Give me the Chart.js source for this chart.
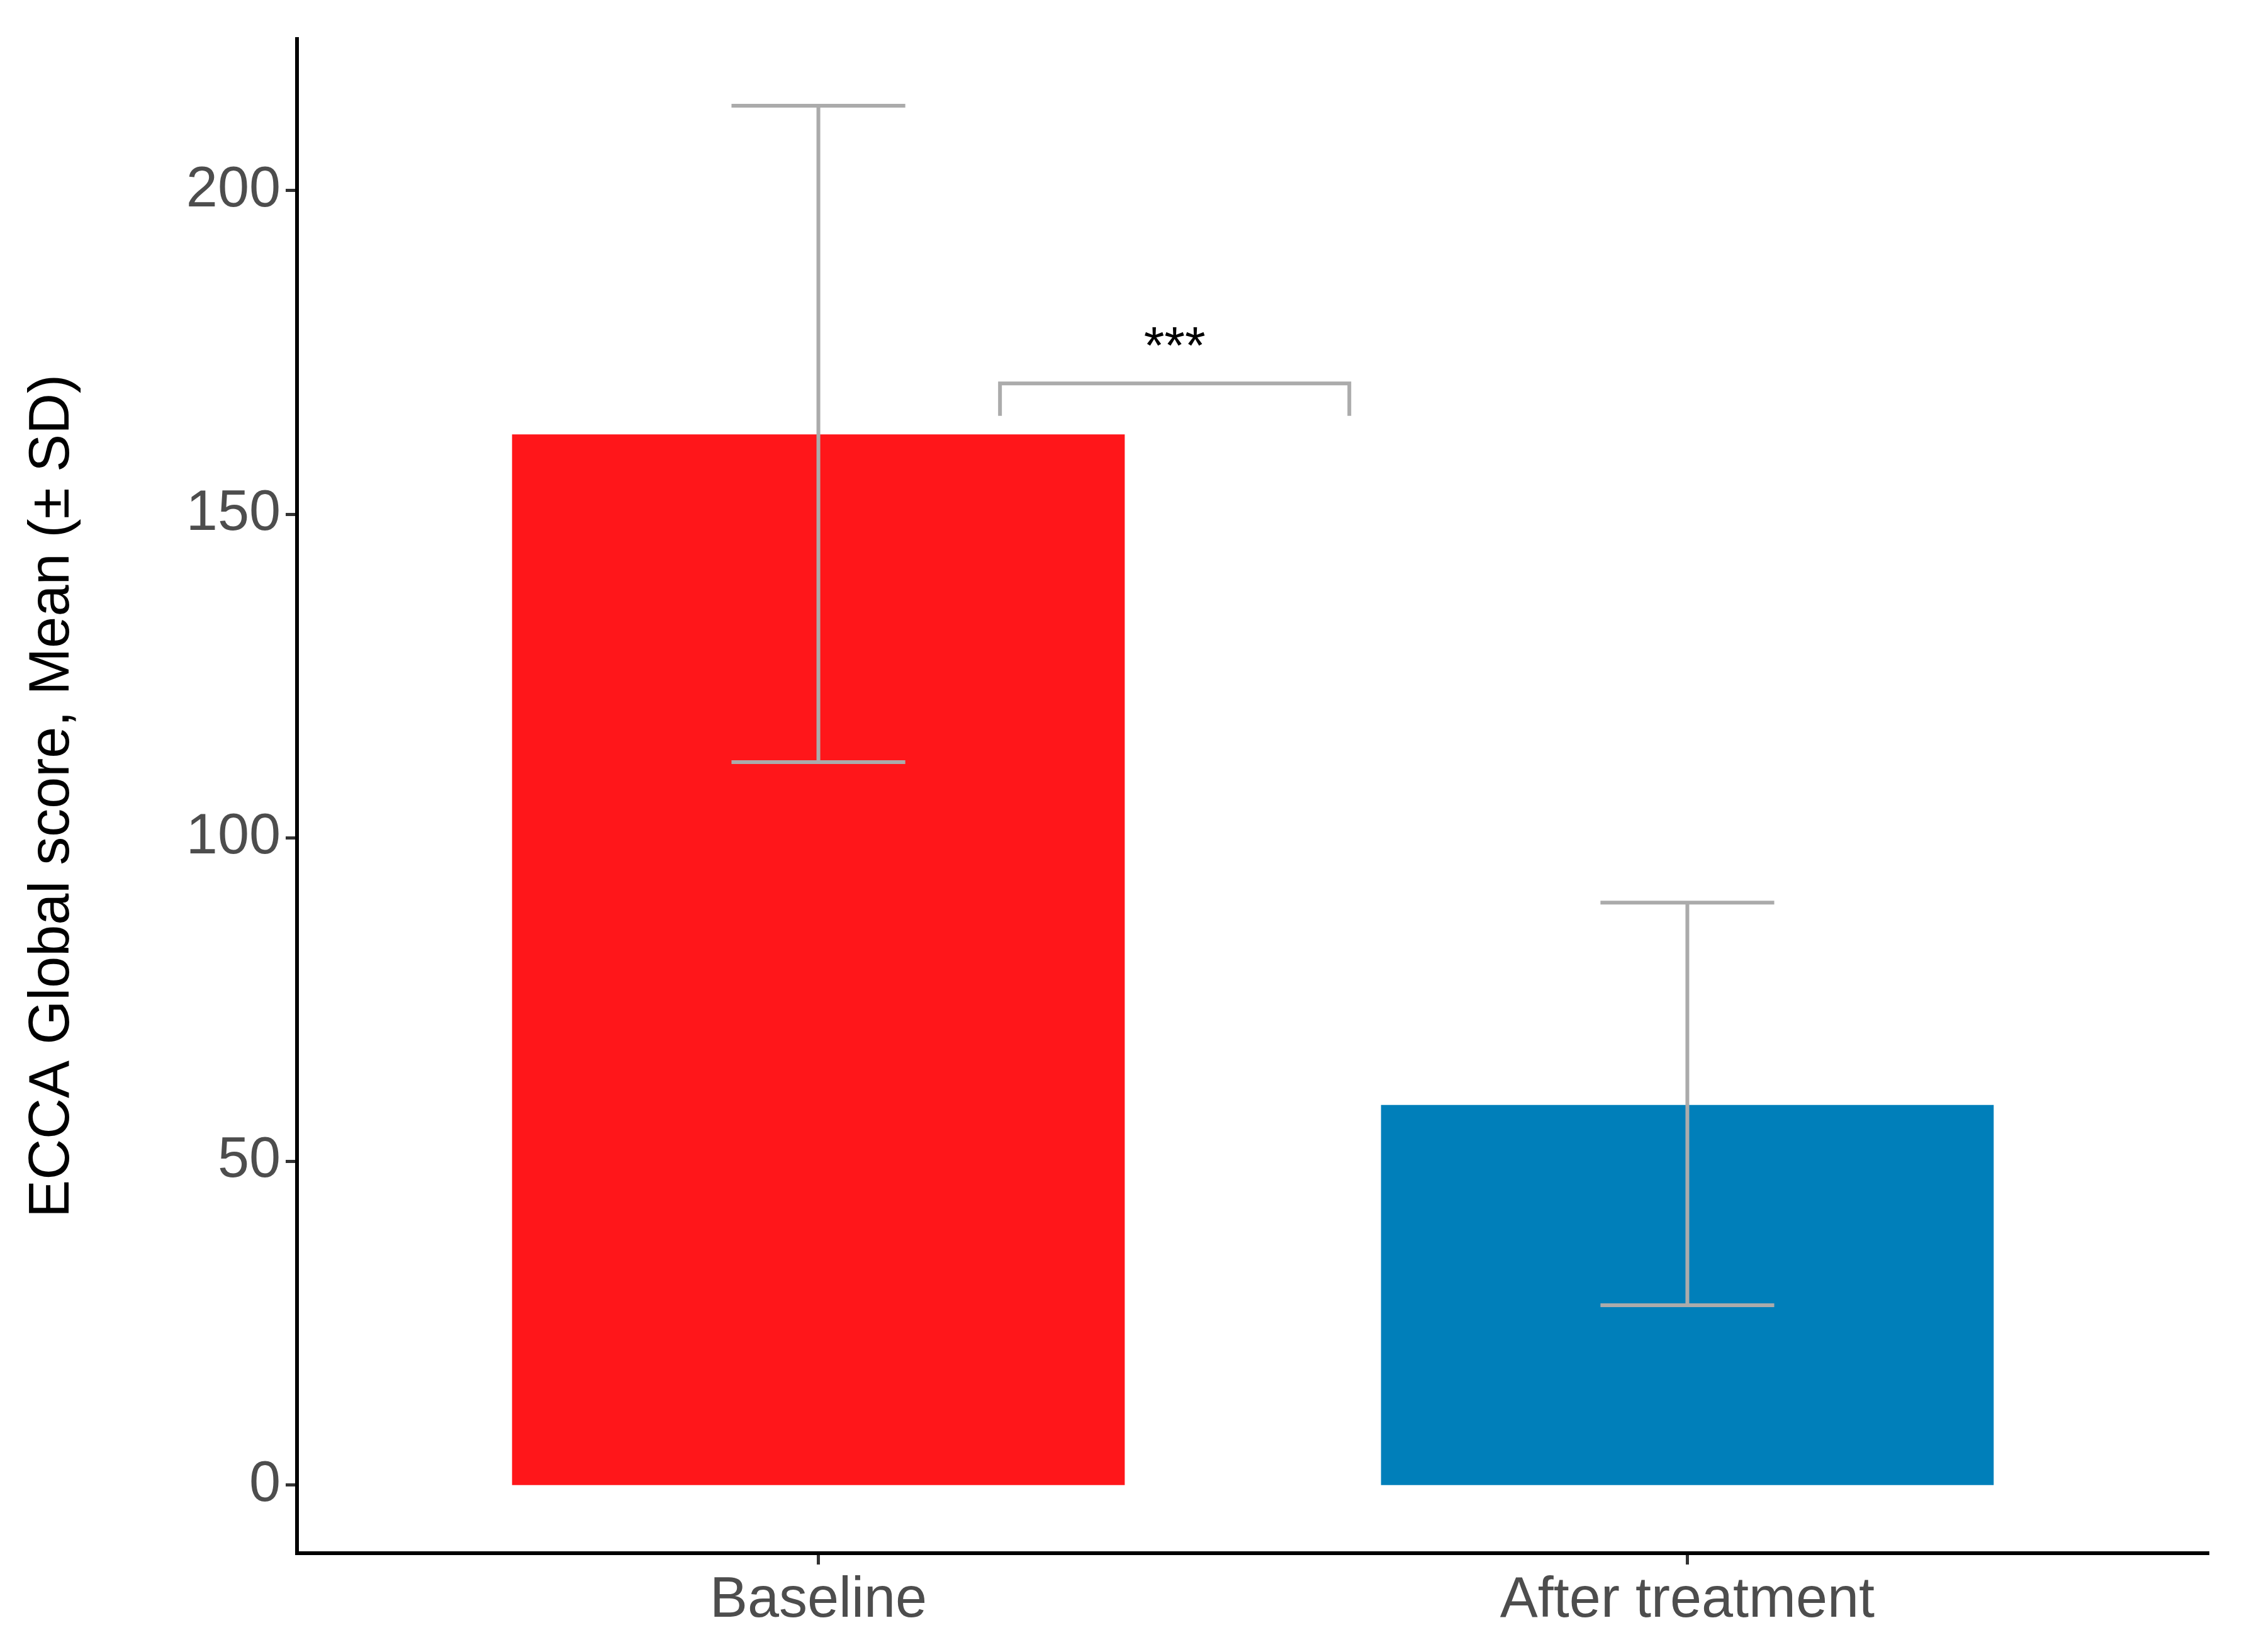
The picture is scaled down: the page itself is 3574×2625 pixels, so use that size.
<!DOCTYPE html>
<html><head><meta charset="utf-8">
<script src="https://cdn.jsdelivr.net/npm/chart.js@4/dist/chart.umd.min.js"></script>
<style>html,body{margin:0;padding:0;background:#fff}canvas{display:block}</style>
</head><body>
<canvas id="c" width="3574" height="2625"></canvas>
<script>
const categories = ["Baseline", "After treatment"];
const positions = [1, 2];
const means = [162.3, 58.7];
const sdLow = [111.7, 27.8];
const sdHigh = [213.1, 90.0];
const colors = ["#FF161A", "#007FBA"];
const yTicks = [0, 50, 100, 150, 200];
const sigLabel = "***";

const errPlugin = {
  id: 'err',
  afterDatasetsDraw(chart) {
    const {ctx, scales:{x, y}} = chart;
    ctx.save();
    ctx.strokeStyle = '#ABABAB';
    ctx.lineWidth = 6;
    positions.forEach((p, i) => {
      const cx = x.getPixelForValue(p);
      const l = x.getPixelForValue(p - 0.1), r = x.getPixelForValue(p + 0.1);
      const yt = y.getPixelForValue(sdHigh[i]), yb = y.getPixelForValue(sdLow[i]);
      ctx.beginPath();
      ctx.moveTo(cx, yt); ctx.lineTo(cx, yb);
      ctx.moveTo(l, yt); ctx.lineTo(r, yt);
      ctx.moveTo(l, yb); ctx.lineTo(r, yb);
      ctx.stroke();
    });
    const bx1 = x.getPixelForValue(1.209), bx2 = x.getPixelForValue(1.611);
    const by = y.getPixelForValue(170.2), bl = y.getPixelForValue(165.2);
    ctx.beginPath();
    ctx.moveTo(bx1, bl); ctx.lineTo(bx1, by); ctx.lineTo(bx2, by); ctx.lineTo(bx2, bl);
    ctx.stroke();
    ctx.fillStyle = '#000';
    ctx.font = '84px "Liberation Sans", Arial, sans-serif';
    ctx.textAlign = 'center'; ctx.textBaseline = 'middle';
    ctx.fillText(sigLabel, x.getPixelForValue(1.41), y.getPixelForValue(175.5));
    ctx.restore();
  }
};

new Chart(document.getElementById('c'), {
  type: 'bar',
  data: {
    datasets: [{
      data: positions.map((p, i) => ({x: p, y: means[i]})),
      backgroundColor: colors,
      barThickness: 973,
      borderWidth: 0
    }]
  },
  options: {
    responsive: false,
    animation: false,
    layout: {padding: {top: 34, right: 64, left: 30, bottom: 0}},
    plugins: {legend: {display: false}, tooltip: {enabled: false}},
    scales: {
      x: {
        type: 'linear', min: 0.4, max: 2.6, offset: false,
        afterBuildTicks: s => { s.ticks = positions.map(v => ({value: v})); },
        afterFit: s => { s.height = 157; },
        ticks: {
          callback: v => categories[positions.indexOf(v)] ?? '',
          color: '#4D4D4D', padding: 4,
          font: {size: 90, family: '"Liberation Sans", Arial, sans-serif'}
        },
        grid: {offset: false, drawOnChartArea: false, tickLength: 18, tickColor: '#333', tickWidth: 5},
        border: {color: '#000', width: 6}
      },
      y: {
        min: -10.5, max: 223.4,
        afterBuildTicks: s => { s.ticks = yTicks.map(v => ({value: v})); },
        afterFit: s => { s.width = 442; },
        ticks: {
          color: '#4D4D4D', padding: 8,
          font: {size: 90, family: '"Liberation Sans", Arial, sans-serif'}
        },
        grid: {drawOnChartArea: false, tickLength: 18, tickColor: '#333', tickWidth: 5},
        border: {color: '#000', width: 6},
        title: {
          display: true, text: 'ECCA Global score, Mean (± SD)', color: '#000',
          padding: {top: 0, bottom: 20},
          font: {size: 90, family: '"Liberation Sans", Arial, sans-serif'}
        }
      }
    }
  },
  plugins: [errPlugin]
});
</script>
</body></html>
